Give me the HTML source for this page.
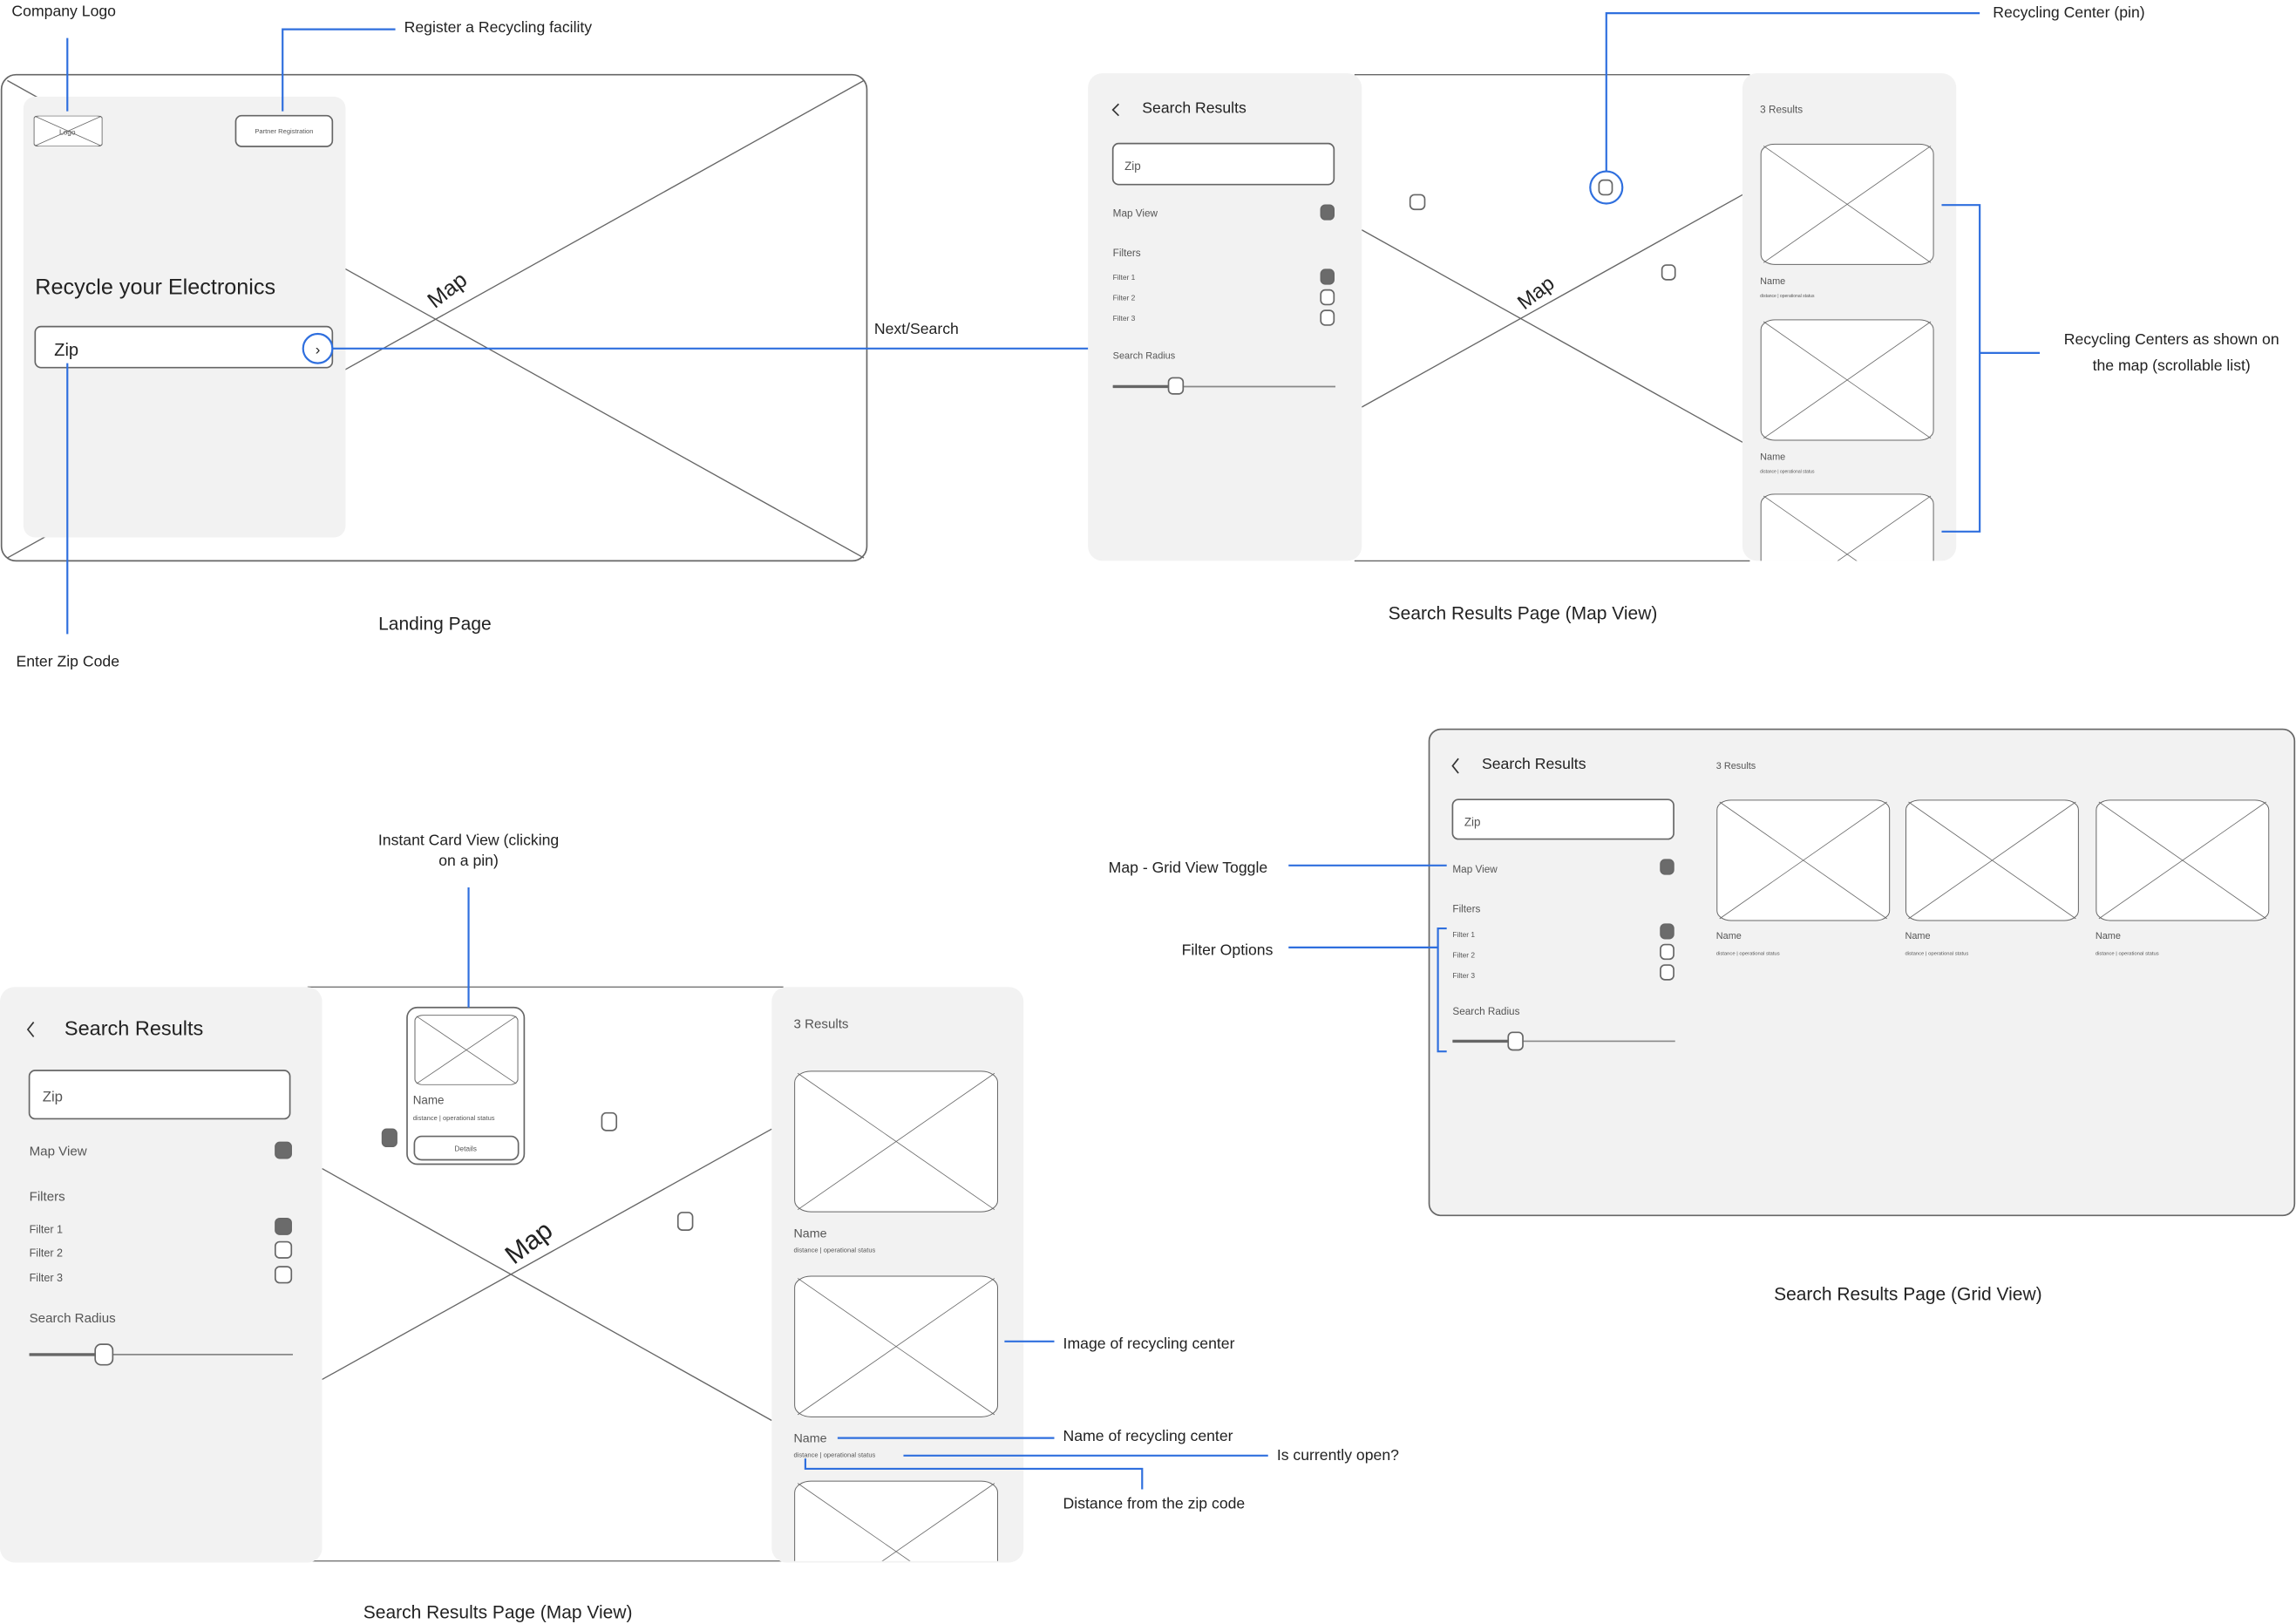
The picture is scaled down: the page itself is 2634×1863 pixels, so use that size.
<!DOCTYPE html>
<html><head><meta charset="utf-8"><style>
html,body{margin:0;padding:0;background:#fff;}
svg{display:block;}
text{font-family:"Liberation Sans",sans-serif;fill:#222;}
.g{fill:#f2f2f2;stroke:none;}
.o{fill:none;stroke:#666;stroke-width:1;}
.w{fill:#fff;stroke:#666;stroke-width:1;}
.x{stroke:#666;stroke-width:0.8;}
.b{fill:none;stroke:#2f6fde;stroke-width:1.3;}
.f{fill:#6b6b6b;stroke:#666;stroke-width:0.8;}
.t{fill:#555;}
</style></head><body>
<svg width="2634" height="1863" viewBox="0 0 1568 1109" preserveAspectRatio="none" xmlns="http://www.w3.org/2000/svg">
<defs>
<symbol id="img" viewBox="0 0 100 100" preserveAspectRatio="none">
<rect x="0.5" y="0.5" width="99" height="99" rx="8" fill="#fff" stroke="#666" stroke-width="1" vector-effect="non-scaling-stroke"/>
<line x1="2" y1="2" x2="98" y2="98" stroke="#666" vector-effect="non-scaling-stroke" stroke-width="0.8"/>
<line x1="98" y1="2" x2="2" y2="98" stroke="#666" vector-effect="non-scaling-stroke" stroke-width="0.8"/>
</symbol>
</defs>

<!-- ===== Landing Page ===== -->
<rect x="1" y="51" width="591" height="332" rx="10" class="o"/>
<line x1="5" y1="55" x2="590" y2="381" class="x"/>
<line x1="590" y1="55" x2="5" y2="381" class="x"/>
<rect x="16" y="66" width="220" height="301" rx="8" class="g"/>
<use href="#img" x="23" y="79" width="47" height="21"/>
<text x="46" y="92" font-size="5" text-anchor="middle" class="t">Logo</text>
<rect x="161" y="79" width="66" height="21" rx="4" class="w"/>
<text x="194" y="91" font-size="4.5" text-anchor="middle" class="t">Partner Registration</text>
<text x="24" y="201" font-size="15">Recycle your Electronics</text>
<rect x="24" y="223" width="203" height="28" rx="4" class="w"/>
<text x="37" y="243" font-size="12">Zip</text>
<circle cx="217" cy="238" r="10" fill="#fff" stroke="#2f6fde" stroke-width="1.3"/>
<text x="217" y="242" font-size="10" text-anchor="middle">›</text>
<line x1="227" y1="238" x2="744" y2="238" class="b"/>
<text x="597" y="228" font-size="10.5">Next/Search</text>
<text x="0" y="0" font-size="15" transform="translate(297,211) rotate(-38)">Map</text>
<text x="8" y="11" font-size="10.5">Company Logo</text>
<line x1="46" y1="26" x2="46" y2="76" class="b"/>
<polyline points="193,76 193,20 270,20" class="b"/>
<text x="276" y="22" font-size="10.5">Register a Recycling facility</text>
<line x1="46" y1="248" x2="46" y2="433" class="b"/>
<text x="11" y="455" font-size="10.5">Enter Zip Code</text>
<text x="297" y="430" font-size="12.5" text-anchor="middle">Landing Page</text>

<!-- ===== Search Results Map View (top) ===== -->
<line x1="925" y1="51" x2="1195" y2="51" class="x"/>
<line x1="925" y1="383" x2="1195" y2="383" class="x"/>
<line x1="930" y1="157" x2="1190" y2="302" class="x"/>
<line x1="930" y1="278" x2="1190" y2="133" class="x"/>
<text x="0" y="0" font-size="14" transform="translate(1041,212) rotate(-38)">Map</text>
<rect x="743" y="50" width="187" height="333" rx="10" class="g"/>
<rect x="1190" y="50" width="146" height="333" rx="10" class="g"/>
<polyline points="764,71 760,75 764,79" fill="none" stroke="#333" stroke-width="1"/>
<text x="780" y="77" font-size="10.5">Search Results</text>
<rect x="760" y="98" width="151" height="28" rx="4" class="w"/>
<text x="768" y="116" font-size="8" class="t">Zip</text>
<text x="760" y="148" font-size="7" class="t">Map View</text>
<rect x="902" y="140" width="9" height="10" rx="3" class="f"/>
<text x="760" y="175" font-size="7" class="t">Filters</text>
<text x="760" y="191" font-size="5" class="t">Filter 1</text>
<text x="760" y="205" font-size="5" class="t">Filter 2</text>
<text x="760" y="219" font-size="5" class="t">Filter 3</text>
<rect x="902" y="184" width="9" height="10" rx="3" class="f"/>
<rect x="902" y="198" width="9" height="10" rx="3" class="w"/>
<rect x="902" y="212" width="9" height="10" rx="3" class="w"/>
<text x="760" y="245" font-size="6.5" class="t">Search Radius</text>
<line x1="760" y1="264" x2="912" y2="264" stroke="#888" stroke-width="1"/>
<line x1="760" y1="264" x2="800" y2="264" stroke="#666" stroke-width="2"/>
<rect x="798" y="258" width="10" height="11" rx="3" class="w"/>
<rect x="963" y="133" width="10" height="10" rx="3" class="w"/>
<rect x="1092" y="123" width="9" height="10" rx="3" class="w"/>
<rect x="1135" y="181" width="9" height="10" rx="3" class="w"/>
<circle cx="1097" cy="128" r="11" fill="none" stroke="#2f6fde" stroke-width="1.3"/>
<polyline points="1097,117 1097,9 1352,9" class="b"/>
<text x="1361" y="12" font-size="10.5">Recycling Center (pin)</text>
<text x="1202" y="77" font-size="7" class="t">3 Results</text>
<use href="#img" x="1202" y="98" width="119" height="83"/>
<text x="1202" y="194" font-size="6.5" class="t">Name</text>
<text x="1202" y="203" font-size="3" class="t">distance | operational status</text>
<use href="#img" x="1202" y="218" width="119" height="83"/>
<text x="1202" y="314" font-size="6.5" class="t">Name</text>
<text x="1202" y="323" font-size="3" class="t">distance | operational status</text>
<svg x="1202" y="337" width="119" height="46" viewBox="0 0 119 46" overflow="hidden"><use href="#img" x="0" y="0" width="119" height="83"/></svg>
<polyline points="1326,140 1352,140 1352,363 1326,363" class="b"/>
<line x1="1352" y1="241" x2="1393" y2="241" class="b"/>
<text x="1483" y="235" font-size="10.5" text-anchor="middle">Recycling Centers as shown on</text>
<text x="1483" y="253" font-size="10.5" text-anchor="middle">the map (scrollable list)</text>
<text x="1040" y="423" font-size="12.5" text-anchor="middle">Search Results Page (Map View)</text>

<!-- ===== Search Results Map View (bottom) ===== -->
<line x1="210" y1="674" x2="535" y2="674" class="x"/>
<line x1="210" y1="1066" x2="535" y2="1066" class="x"/>
<line x1="220" y1="798" x2="527" y2="970" class="x"/>
<line x1="220" y1="942" x2="527" y2="771" class="x"/>
<text x="0" y="0" font-size="18" transform="translate(351,864) rotate(-38)">Map</text>
<rect x="0" y="674" width="220" height="393" rx="10" class="g"/>
<rect x="527" y="674" width="172" height="393" rx="10" class="g"/>
<polyline points="23,698 19,703 23,708" fill="none" stroke="#333" stroke-width="1"/>
<text x="44" y="707" font-size="14">Search Results</text>
<rect x="20" y="731" width="178" height="33" rx="4" class="w"/>
<text x="29" y="752" font-size="10" class="t">Zip</text>
<text x="20" y="789" font-size="9" class="t">Map View</text>
<rect x="188" y="780" width="11" height="11" rx="3" class="f"/>
<text x="20" y="820" font-size="9" class="t">Filters</text>
<text x="20" y="842" font-size="7.5" class="t">Filter 1</text>
<text x="20" y="858" font-size="7.5" class="t">Filter 2</text>
<text x="20" y="875" font-size="7.5" class="t">Filter 3</text>
<rect x="188" y="832" width="11" height="11" rx="3" class="f"/>
<rect x="188" y="848" width="11" height="11" rx="3" class="w"/>
<rect x="188" y="865" width="11" height="11" rx="3" class="w"/>
<text x="20" y="903" font-size="9" class="t">Search Radius</text>
<line x1="20" y1="925" x2="200" y2="925" stroke="#888" stroke-width="1"/>
<line x1="20" y1="925" x2="66" y2="925" stroke="#666" stroke-width="2"/>
<rect x="65" y="918" width="12" height="14" rx="4" class="w"/>
<rect x="278" y="688" width="80" height="107" rx="7" class="w"/>
<use href="#img" x="283" y="693" width="71" height="48"/>
<text x="282" y="754" font-size="8" class="t">Name</text>
<text x="282" y="765" font-size="4.5" class="t">distance | operational status</text>
<rect x="283" y="776" width="71" height="16" rx="5" class="w"/>
<text x="318" y="786" font-size="5" text-anchor="middle" class="t">Details</text>
<rect x="261" y="771" width="10" height="12" rx="3" class="f"/>
<rect x="411" y="760" width="10" height="12" rx="3" class="w"/>
<rect x="463" y="828" width="10" height="12" rx="3" class="w"/>
<line x1="320" y1="688" x2="320" y2="606" class="b"/>
<text x="320" y="577" font-size="10.5" text-anchor="middle">Instant Card View (clicking</text>
<text x="320" y="591" font-size="10.5" text-anchor="middle">on a pin)</text>
<text x="542" y="702" font-size="9" class="t">3 Results</text>
<use href="#img" x="542" y="731" width="140" height="97"/>
<text x="542" y="845" font-size="8.5" class="t">Name</text>
<text x="542" y="855" font-size="4.5" class="t">distance | operational status</text>
<use href="#img" x="542" y="871" width="140" height="97"/>
<text x="542" y="985" font-size="8.5" class="t">Name</text>
<text x="542" y="995" font-size="4.5" class="t">distance | operational status</text>
<svg x="542" y="1011" width="140" height="55" viewBox="0 0 140 55" overflow="hidden"><use href="#img" x="0" y="0" width="140" height="97"/></svg>
<line x1="686" y1="916" x2="720" y2="916" class="b"/>
<text x="726" y="921" font-size="10.5">Image of recycling center</text>
<line x1="572" y1="982" x2="720" y2="982" class="b"/>
<text x="726" y="984" font-size="10.5">Name of recycling center</text>
<line x1="617" y1="994" x2="866" y2="994" class="b"/>
<text x="872" y="997" font-size="10.5">Is currently open?</text>
<polyline points="550,996 550,1003 780,1003 780,1017" class="b"/>
<text x="726" y="1030" font-size="10.5">Distance from the zip code</text>
<text x="340" y="1105" font-size="12.5" text-anchor="middle">Search Results Page (Map View)</text>

<!-- ===== Grid View ===== -->
<rect x="976" y="498" width="591" height="332" rx="8" fill="#f2f2f2" stroke="#666" stroke-width="1"/>
<polyline points="996,518 992,523 996,528" fill="none" stroke="#333" stroke-width="1"/>
<text x="1012" y="525" font-size="10.5">Search Results</text>
<rect x="992" y="546" width="151" height="27" rx="4" class="w"/>
<text x="1000" y="564" font-size="8" class="t">Zip</text>
<text x="992" y="596" font-size="7" class="t">Map View</text>
<rect x="1134" y="587" width="9" height="10" rx="3" class="f"/>
<text x="992" y="623" font-size="7" class="t">Filters</text>
<text x="992" y="640" font-size="5" class="t">Filter 1</text>
<text x="992" y="654" font-size="5" class="t">Filter 2</text>
<text x="992" y="668" font-size="5" class="t">Filter 3</text>
<rect x="1134" y="631" width="9" height="10" rx="3" class="f"/>
<rect x="1134" y="645" width="9" height="10" rx="3" class="w"/>
<rect x="1134" y="659" width="9" height="10" rx="3" class="w"/>
<text x="992" y="693" font-size="7" class="t">Search Radius</text>
<line x1="992" y1="711" x2="1144" y2="711" stroke="#888" stroke-width="1"/>
<line x1="992" y1="711" x2="1030" y2="711" stroke="#666" stroke-width="2"/>
<rect x="1030" y="705" width="10" height="12" rx="3" class="w"/>
<text x="1172" y="525" font-size="6.5" class="t">3 Results</text>
<use href="#img" x="1172" y="546" width="119" height="83"/>
<use href="#img" x="1301" y="546" width="119" height="83"/>
<use href="#img" x="1431" y="546" width="119" height="83"/>
<text x="1172" y="641" font-size="6.5" class="t">Name</text>
<text x="1301" y="641" font-size="6.5" class="t">Name</text>
<text x="1431" y="641" font-size="6.5" class="t">Name</text>
<text x="1172" y="652" font-size="3.5" class="t">distance | operational status</text>
<text x="1301" y="652" font-size="3.5" class="t">distance | operational status</text>
<text x="1431" y="652" font-size="3.5" class="t">distance | operational status</text>
<line x1="880" y1="591" x2="988" y2="591" class="b"/>
<text x="757" y="596" font-size="10.5">Map - Grid View Toggle</text>
<line x1="880" y1="647" x2="982" y2="647" class="b"/>
<polyline points="988,634 982,634 982,718 988,718" class="b"/>
<text x="807" y="652" font-size="10.5">Filter Options</text>
<text x="1303" y="888" font-size="12.5" text-anchor="middle">Search Results Page (Grid View)</text>
</svg>
</body></html>
